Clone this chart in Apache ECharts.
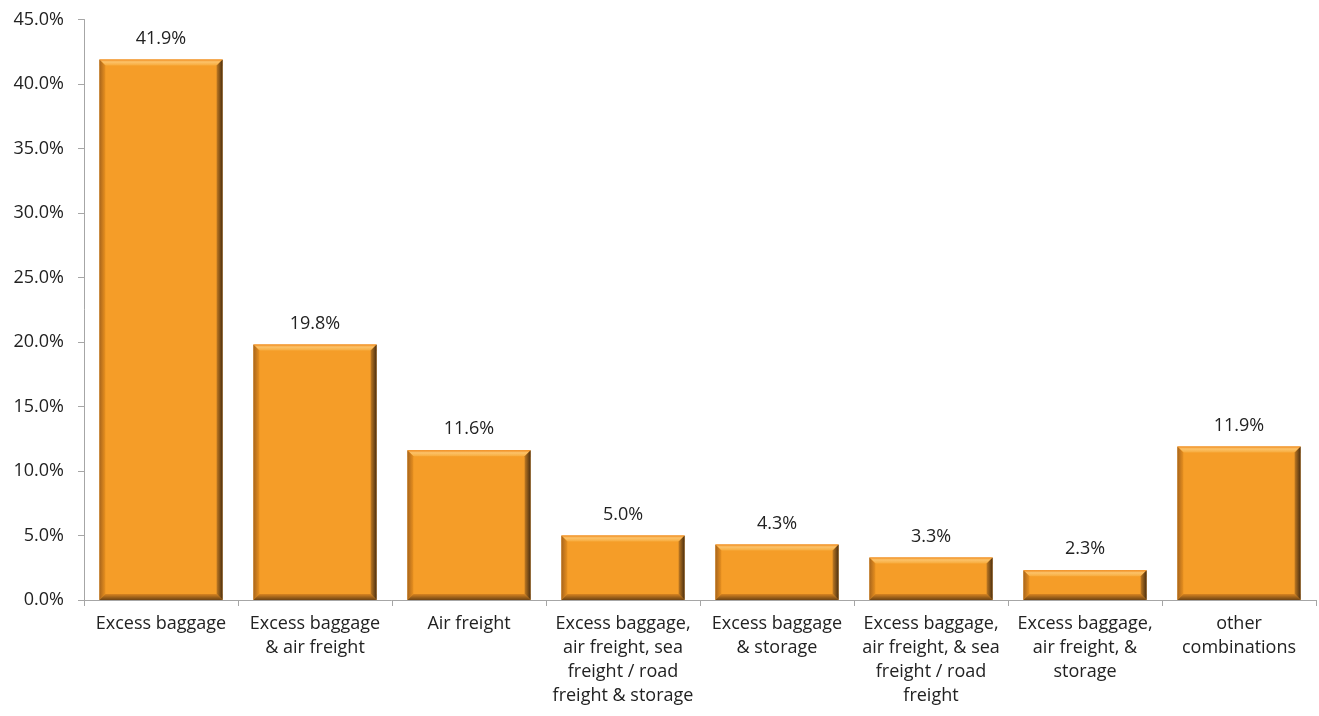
<!DOCTYPE html>
<html><head><meta charset="utf-8">
<script src="https://cdn.jsdelivr.net/npm/echarts@6/dist/echarts.min.js"></script>
<style>html,body{margin:0;padding:0;background:#fff}#c{width:1319px;height:716px}</style>
</head><body><div id="c"></div>
<script>
const categories = [
  "Excess baggage",
  "Excess baggage\n& air freight",
  "Air freight",
  "Excess baggage,\nair freight, sea\nfreight / road\nfreight & storage",
  "Excess baggage\n& storage",
  "Excess baggage,\nair freight, & sea\nfreight / road\nfreight",
  "Excess baggage,\nair freight, &\nstorage",
  "other\ncombinations"
];
const values = [41.9, 19.8, 11.6, 5.0, 4.3, 3.3, 2.3, 11.9];
const yTicks = [0, 5, 10, 15, 20, 25, 30, 35, 40, 45];

const FONT = '"Open Sans", "Noto Sans", sans-serif';
const chart = echarts.init(document.getElementById('c'));

function renderItem(params, api) {
  const i = api.value(0), v = api.value(1);
  const top = api.coord([i, v]);
  const base = api.coord([i, 0]);
  const w = api.size([1, 0])[0] * 0.8;
  const x0 = top[0] - w / 2, x1 = top[0] + w / 2;
  const y0 = top[1], y1 = base[1];
  const b = 6;
  const kids = [
    {type:'rect', shape:{x:x0, y:y0, width:w, height:y1-y0}, style:{fill:'#f59d28'}},
    {type:'polygon', shape:{points:[[x0,y0],[x1,y0],[x1-b,y0+b],[x0+b,y0+b]]},
      style:{fill:new echarts.graphic.LinearGradient(0,0,0,1,[{offset:0,color:'#f08a1c'},{offset:0.4,color:'#fcc36a'},{offset:1,color:'#f7ab3c'}])}},
    {type:'polygon', shape:{points:[[x0,y0],[x0+b,y0+b],[x0+b,y1-b],[x0,y1]]},
      style:{fill:new echarts.graphic.LinearGradient(0,0,1,0,[{offset:0,color:'#a8651c'},{offset:1,color:'#e8901f'}])}},
    {type:'polygon', shape:{points:[[x1,y0],[x1,y1],[x1-b,y1-b],[x1-b,y0+b]]},
      style:{fill:new echarts.graphic.LinearGradient(0,0,1,0,[{offset:0,color:'#c07a22'},{offset:1,color:'#4a2e10'}])}},
    {type:'polygon', shape:{points:[[x0,y1],[x0+b,y1-b],[x1-b,y1-b],[x1,y1]]},
      style:{fill:new echarts.graphic.LinearGradient(0,0,0,1,[{offset:0,color:'#d88420'},{offset:1,color:'#6e4414'}])}},
    {type:'text', style:{text:v.toFixed(1)+'%', x:top[0], y:y0-12, align:'center', verticalAlign:'bottom',
      fill:'#222', font:'18px '+FONT}}
  ];
  return {type:'group', children:kids};
}

chart.setOption({
  animation:false,
  grid:{left:84, right:3, top:19.5, bottom:116},
  xAxis:{
    type:'category', data:categories,
    axisLine:{lineStyle:{color:'#a6a6a6', width:1}},
    axisTick:{show:true, alignWithLabel:false, length:6, lineStyle:{color:'#a6a6a6'}},
    axisLabel:{interval:0, color:'#222', fontSize:18, fontFamily:FONT, lineHeight:24, margin:12}
  },
  yAxis:{
    type:'value', min:0, max:45, interval:5,
    axisLine:{show:true, lineStyle:{color:'#a6a6a6', width:1}},
    axisTick:{show:true, length:6, lineStyle:{color:'#a6a6a6'}},
    splitLine:{show:false},
    axisLabel:{color:'#222', fontSize:18, fontFamily:FONT, margin:20,
      formatter: v => yTicks.includes(v) ? v.toFixed(1)+'%' : ''}
  },
  series:[{
    type:'custom', renderItem,
    data: values.map((v,i)=>[i,v]),
    encode:{x:0, y:1}
  }]
});
</script></body></html>
